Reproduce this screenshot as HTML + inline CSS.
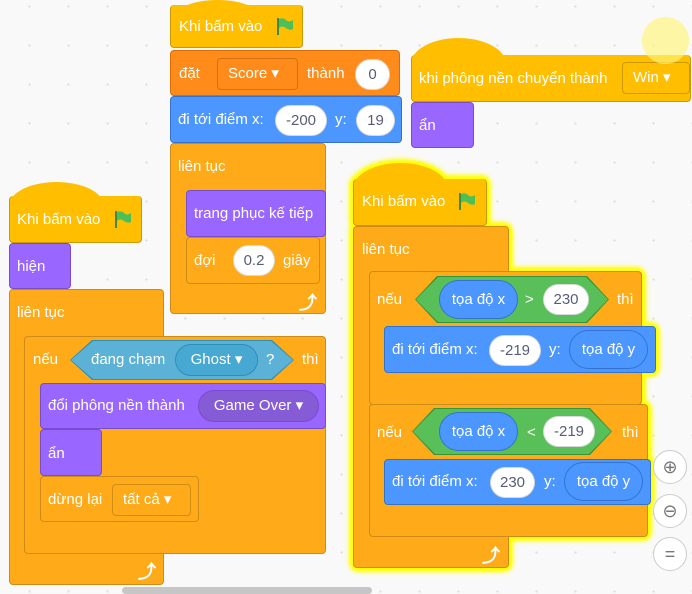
<!DOCTYPE html>
<html><head><meta charset="utf-8"><style>
*{margin:0;padding:0;box-sizing:border-box}
body{width:692px;height:594px;overflow:hidden;background:#f9f9f9;position:relative;font-family:"Liberation Sans","DejaVu Sans",sans-serif;font-size:15px;color:#fff;
background-image:radial-gradient(circle,#dcdcdc 1px,transparent 1.3px);background-size:39px 39px;background-position:10px 26px}
.b{position:absolute;border-radius:4px;border:1px solid rgba(0,0,0,.12)}
.t{position:absolute;white-space:nowrap;line-height:20px}
.ev{background:#ffbf00;border-color:#cc9900}
.ct{background:#ffab19;border-color:#cf8b17}
.lk{background:#9966ff;border-color:#774dcb}
.mo{background:#4c97ff;border-color:#3373cc}
.va{background:#ff8c1a;border-color:#db6e00}
.in{position:absolute;background:#fff;color:#575e75;border-radius:16px;text-align:center;line-height:30px;height:31px;border:1px solid rgba(0,0,0,.15)}
.dd{position:absolute;border-radius:4px;border:1px solid rgba(0,0,0,.18);line-height:30px;height:32px;padding-left:10px}
.rep{position:absolute;border-radius:20px;text-align:center;color:#fff}
.hx{position:absolute;clip-path:polygon(0 50%,22px 0,calc(100% - 22px) 0,100% 50%,calc(100% - 22px) 100%,22px 100%)}
.cap{position:absolute;border-radius:50% 50% 0 0/100% 100% 0 0}
.flag{position:absolute;width:20px;height:20px}
.arr{position:absolute;font-size:18px;font-weight:bold}
.glow{position:absolute;left:0;top:0;width:692px;height:594px;filter:drop-shadow(0 0 2px #ff0) drop-shadow(0 0 2px #ff0) drop-shadow(0 0 2px #ff0) drop-shadow(0 0 1px #ff0)}
.zb{position:absolute;width:34px;height:34px;border-radius:50%;background:#fff;border:1px solid #ccc;color:#777;text-align:center;line-height:32px;font-size:18px}
</style></head><body>

<!-- Script 1 -->
<div class="cap ev" style="left:170px;top:0px;width:95px;height:22px;border-bottom:none"></div>
<div class="b ev" style="left:170px;top:5px;width:133px;height:43px;border-top:none"></div>
<span class="t" style="left:179px;top:17px">Khi bấm vào</span>
<svg class="flag" style="left:275px;top:16px" viewBox="0 0 20 20"><rect x="2" y="2" width="2" height="17" fill="#3d8a3d"/><path d="M4 3 Q8 1 11 4 T18 4 V13 Q15 15 11 12 T4 12Z" fill="#4cbf56"/></svg>

<div class="b va" style="left:170px;top:50px;width:230px;height:46px"></div>
<span class="t" style="left:179px;top:64px">đặt</span>
<div class="dd" style="left:217px;top:58px;width:81px;background:#ff8c1a">Score ▾</div>
<span class="t" style="left:307px;top:64px">thành</span>
<div class="in" style="left:355px;top:59px;width:35px">0</div>

<div class="b mo" style="left:170px;top:96px;width:232px;height:47px"></div>
<span class="t" style="left:178px;top:110px">đi tới điểm x:</span>
<div class="in" style="left:275px;top:105px;width:52px">-200</div>
<span class="t" style="left:335px;top:110px">y:</span>
<div class="in" style="left:356px;top:105px;width:39px">19</div>

<div class="b ct" style="left:170px;top:143px;width:156px;height:171px"></div>
<span class="t" style="left:178px;top:157px">liên tục</span>
<div class="b lk" style="left:186px;top:190px;width:140px;height:47px"></div>
<span class="t" style="left:194px;top:204px">trang phục kế tiếp</span>
<div class="b ct" style="left:186px;top:237px;width:134px;height:47px"></div>
<span class="t" style="left:194px;top:251px">đợi</span>
<div class="in" style="left:233px;top:245px;width:42px">0.2</div>
<span class="t" style="left:283px;top:251px">giây</span>
<span class="arr" style="left:299px;top:289px">⤴</span>

<!-- Script 2 -->
<div class="cap ev" style="left:9px;top:182px;width:95px;height:24px;border-bottom:none"></div>
<div class="b ev" style="left:9px;top:196px;width:133px;height:47px;border-top:none"></div>
<span class="t" style="left:17px;top:210px">Khi bấm vào</span>
<svg class="flag" style="left:113px;top:209px" viewBox="0 0 20 20"><rect x="2" y="2" width="2" height="17" fill="#3d8a3d"/><path d="M4 3 Q8 1 11 4 T18 4 V13 Q15 15 11 12 T4 12Z" fill="#4cbf56"/></svg>
<div class="b lk" style="left:9px;top:243px;width:62px;height:46px"></div>
<span class="t" style="left:17px;top:257px">hiện</span>

<div class="b ct" style="left:9px;top:289px;width:155px;height:296px"></div>
<span class="t" style="left:17px;top:303px">liên tục</span>
<div class="b ct" style="left:24px;top:336px;width:302px;height:218px"></div>
<span class="t" style="left:33px;top:350px">nếu</span>
<div class="hx" style="left:70px;top:340px;width:224px;height:40px;background:#2e8eb8"></div>
<div class="hx" style="left:71px;top:341px;width:222px;height:38px;background:#5cb1d6"></div>
<span class="t" style="left:91px;top:350px">đang chạm</span>
<div class="rep" style="left:175px;top:344px;width:83px;height:32px;background:#47a8d1;border:1px solid #2e8eb8;line-height:30px">Ghost ▾</div>
<span class="t" style="left:266px;top:350px">?</span>
<span class="t" style="left:302px;top:350px">thì</span>
<div class="b lk" style="left:40px;top:383px;width:286px;height:46px"></div>
<span class="t" style="left:48px;top:396px">đổi phông nền thành</span>
<div class="rep" style="left:198px;top:390px;width:121px;height:32px;background:#855cd6;border:1px solid #774dcb;line-height:30px">Game Over ▾</div>
<div class="b lk" style="left:40px;top:429px;width:62px;height:47px"></div>
<span class="t" style="left:48px;top:444px">ẩn</span>
<div class="b ct" style="left:40px;top:476px;width:159px;height:46px"></div>
<span class="t" style="left:48px;top:490px">dừng lại</span>
<div class="dd" style="left:112px;top:484px;width:79px;background:#ffab19;padding-left:10px">tất cả ▾</div>
<span class="arr" style="left:138px;top:558px">⤴</span>

<!-- Script 3 -->
<div class="cap ev" style="left:411px;top:38px;width:95px;height:26px;border-bottom:none"></div>
<div class="b ev" style="left:411px;top:55px;width:280px;height:47px;border-top:none"></div>
<span class="t" style="left:419px;top:69px">khi phông nền chuyển thành</span>
<div class="dd" style="left:622px;top:62px;width:68px;background:#ffbf00;border-color:#cc9900">Win ▾</div>
<div class="b lk" style="left:411px;top:102px;width:63px;height:46px"></div>
<span class="t" style="left:419px;top:116px">ẩn</span>
<div style="position:absolute;left:642px;top:17px;width:47px;height:47px;border-radius:50%;background:rgba(255,245,120,.65)"></div>

<!-- Script 4 -->
<div class="glow">
<div class="cap ev" style="left:353px;top:163px;width:95px;height:26px;border:none"></div>
<div class="b ev" style="left:353px;top:179px;width:134px;height:47px;border-top:none"></div>
<div class="b ct" style="left:353px;top:226px;width:156px;height:342px"></div>
<div class="b ct" style="left:369px;top:271px;width:273px;height:134px"></div>
<div class="b ct" style="left:369px;top:404px;width:279px;height:133px"></div>
<div class="b mo" style="left:384px;top:326px;width:272px;height:47px"></div>
<div class="b mo" style="left:384px;top:459px;width:267px;height:46px"></div>
</div>
<span class="t" style="left:362px;top:192px">Khi bấm vào</span>
<svg class="flag" style="left:457px;top:191px" viewBox="0 0 20 20"><rect x="2" y="2" width="2" height="17" fill="#3d8a3d"/><path d="M4 3 Q8 1 11 4 T18 4 V13 Q15 15 11 12 T4 12Z" fill="#4cbf56"/></svg>
<span class="t" style="left:362px;top:240px">liên tục</span>

<span class="t" style="left:377px;top:290px">nếu</span>
<div class="hx" style="left:415px;top:276px;width:194px;height:47px;background:#389438"></div>
<div class="hx" style="left:416px;top:277px;width:192px;height:45px;background:#59c059"></div>
<div class="rep" style="left:439px;top:280px;width:79px;height:39px;background:#4c97ff;border:1px solid #3373cc;line-height:37px">tọa độ x</div>
<span class="t" style="left:525px;top:290px">&gt;</span>
<div class="in" style="left:543px;top:284px;width:46px">230</div>
<span class="t" style="left:617px;top:290px">thì</span>
<span class="t" style="left:392px;top:340px">đi tới điểm x:</span>
<div class="in" style="left:489px;top:335px;width:52px">-219</div>
<span class="t" style="left:549px;top:340px">y:</span>
<div class="rep" style="left:569px;top:330px;width:79px;height:39px;background:#4c97ff;border:1px solid #3373cc;line-height:37px">tọa độ y</div>

<span class="t" style="left:377px;top:423px">nếu</span>
<div class="hx" style="left:412px;top:408px;width:200px;height:47px;background:#389438"></div>
<div class="hx" style="left:413px;top:409px;width:198px;height:45px;background:#59c059"></div>
<div class="rep" style="left:439px;top:412px;width:79px;height:39px;background:#4c97ff;border:1px solid #3373cc;line-height:37px">tọa độ x</div>
<span class="t" style="left:527px;top:423px">&lt;</span>
<div class="in" style="left:543px;top:416px;width:52px">-219</div>
<span class="t" style="left:622px;top:423px">thì</span>
<span class="t" style="left:392px;top:472px">đi tới điểm x:</span>
<div class="in" style="left:490px;top:467px;width:45px">230</div>
<span class="t" style="left:544px;top:472px">y:</span>
<div class="rep" style="left:564px;top:462px;width:79px;height:39px;background:#4c97ff;border:1px solid #3373cc;line-height:37px">tọa độ y</div>
<span class="arr" style="left:482px;top:542px">⤴</span>

<div class="zb" style="left:653px;top:450px">⊕</div>
<div class="zb" style="left:653px;top:494px">⊖</div>
<div class="zb" style="left:653px;top:537px">=</div>
<div style="position:absolute;left:122px;top:587px;width:250px;height:7px;border-radius:4px;background:#c6c6c6"></div>
</body></html>
